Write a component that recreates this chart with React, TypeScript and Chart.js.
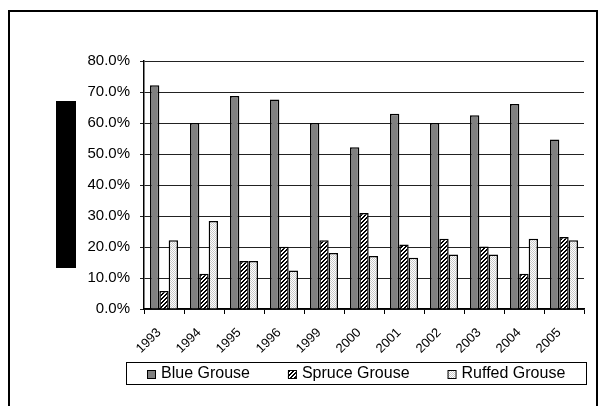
import React, { useEffect, useRef } from "react";
import { Chart, registerables } from "chart.js";

Chart.register(...registerables);

const years = ["1993", "1994", "1995", "1996", "1999", "2000", "2001", "2002", "2003", "2004", "2005"];
const seriesNames = ["Blue Grouse", "Spruce Grouse", "Ruffed Grouse"];
const blueGrouse = [72.2, 60.0, 68.7, 67.6, 60.0, 52.2, 63.0, 60.0, 62.5, 66.1, 54.7];
const spruceGrouse = [5.8, 11.4, 15.5, 20.1, 22.2, 31.0, 20.8, 22.7, 20.2, 11.4, 23.2];
const ruffedGrouse = [22.2, 28.4, 15.5, 12.4, 18.1, 17.1, 16.5, 17.6, 17.6, 22.7, 22.2];
const yMin = 0;
const yMax = 80;
const yStep = 10;

const FONT = '"Liberation Sans", Arial, sans-serif';

function hatchPattern(): CanvasPattern | string {
  const c = document.createElement("canvas");
  c.width = 4;
  c.height = 4;
  const g = c.getContext("2d");
  if (!g) return "#555";
  g.fillStyle = "#ffffff";
  g.fillRect(0, 0, 4, 4);
  g.fillStyle = "#000000";
  for (let i = 0; i < 4; i++) {
    g.fillRect(i, 3 - i, 1, 1);
    g.fillRect(i, (4 - i) % 4, 1, 1);
  }
  const p = g.createPattern(c, "repeat");
  return p || "#555";
}

function dotPattern(): CanvasPattern | string {
  const c = document.createElement("canvas");
  c.width = 2;
  c.height = 2;
  const g = c.getContext("2d");
  if (!g) return "#e6e6e6";
  g.fillStyle = "#ffffff";
  g.fillRect(0, 0, 2, 2);
  g.fillStyle = "#c8c8c8";
  g.fillRect(0, 0, 1, 1);
  g.fillRect(1, 1, 1, 1);
  const p = g.createPattern(c, "repeat");
  return p || "#e6e6e6";
}

const decor = {
  id: "decor",
  afterDraw(chart: any) {
    const { ctx, chartArea: a } = chart;
    ctx.save();
    // outer frame
    ctx.strokeStyle = "#000";
    ctx.lineWidth = 2;
    ctx.strokeRect(9, 11, chart.width - 17, chart.height + 40);
    // black box (axis title block)
    ctx.fillStyle = "#000";
    ctx.fillRect(a.left - 88, a.top + 40, 20, 167);
    // legend
    const lx = a.left - 18;
    const ly = a.bottom + 53;
    const lw = a.right - a.left + 20;
    const lh = 22;
    ctx.lineWidth = 1;
    ctx.strokeStyle = "#000";
    ctx.strokeRect(lx + 0.5, ly + 0.5, lw, lh);
    ctx.font = "16px " + FONT;
    ctx.textBaseline = "middle";
    ctx.textAlign = "left";
    let x = lx + 21;
    const cy = ly + lh / 2 + 1;
    chart.data.datasets.forEach((ds: any) => {
      ctx.fillStyle = ds.backgroundColor;
      ctx.fillRect(x, cy - 4, 8, 8);
      ctx.strokeRect(x + 0.5, cy - 4 + 0.5, 8, 8);
      ctx.fillStyle = "#000";
      ctx.fillText(ds.label, x + 14, cy);
      x += 14 + ctx.measureText(ds.label).width + 38;
    });
    ctx.restore();
  },
};

export default function App() {
  const ref = useRef<HTMLCanvasElement | null>(null);

  useEffect(() => {
    if (!ref.current) return;
    const chart = new Chart(ref.current, {
      type: "bar",
      data: {
        labels: years,
        datasets: [
          {
            label: seriesNames[0],
            data: blueGrouse,
            backgroundColor: "#808080",
            borderColor: "#000",
            borderWidth: 1.5,
          },
          {
            label: seriesNames[1],
            data: spruceGrouse,
            backgroundColor: hatchPattern() as any,
            borderColor: "#000",
            borderWidth: 1.5,
          },
          {
            label: seriesNames[2],
            data: ruffedGrouse,
            backgroundColor: dotPattern() as any,
            borderColor: "#000",
            borderWidth: 1.5,
          },
        ],
      },
      options: {
        responsive: false,
        animation: false,
        layout: { padding: { left: 8, right: 21, top: 61, bottom: 10 } },
        datasets: { bar: { categoryPercentage: 0.7, barPercentage: 1 } },
        plugins: {
          legend: { display: false },
          tooltip: { enabled: false },
        },
        scales: {
          x: {
            grid: {
              display: true,
              drawOnChartArea: false,
              drawTicks: true,
              tickLength: 5,
              color: "#000",
              offset: true,
            },
            border: { display: true, color: "#000", width: 1.5 },
            ticks: {
              maxRotation: 45,
              minRotation: 45,
              autoSkip: false,
              color: "#000",
              padding: 11,
              labelOffset: -5,
              font: { family: FONT, size: 13 },
            },
            afterFit: (s: any) => {
              s.height = 87;
            },
          },
          y: {
            min: yMin,
            max: yMax,
            ticks: {
              stepSize: yStep,
              color: "#000",
              padding: 10,
              font: { family: FONT, size: 15 },
              callback: (v: any) => Number(v).toFixed(1) + "%",
            },
            grid: { color: "#222", tickLength: 4, lineWidth: 1 },
            border: { display: true, color: "#000", width: 1.5 },
            afterFit: (s: any) => {
              s.width = 136;
            },
          },
        },
      },
      plugins: [decor],
    });
    return () => chart.destroy();
  }, []);

  return (
    <div style={{ position: "absolute", left: 0, top: 0, width: 605, height: 406, background: "#fff" }}>
      <canvas ref={ref} width={605} height={406} style={{ display: "block" }} />
    </div>
  );
}
